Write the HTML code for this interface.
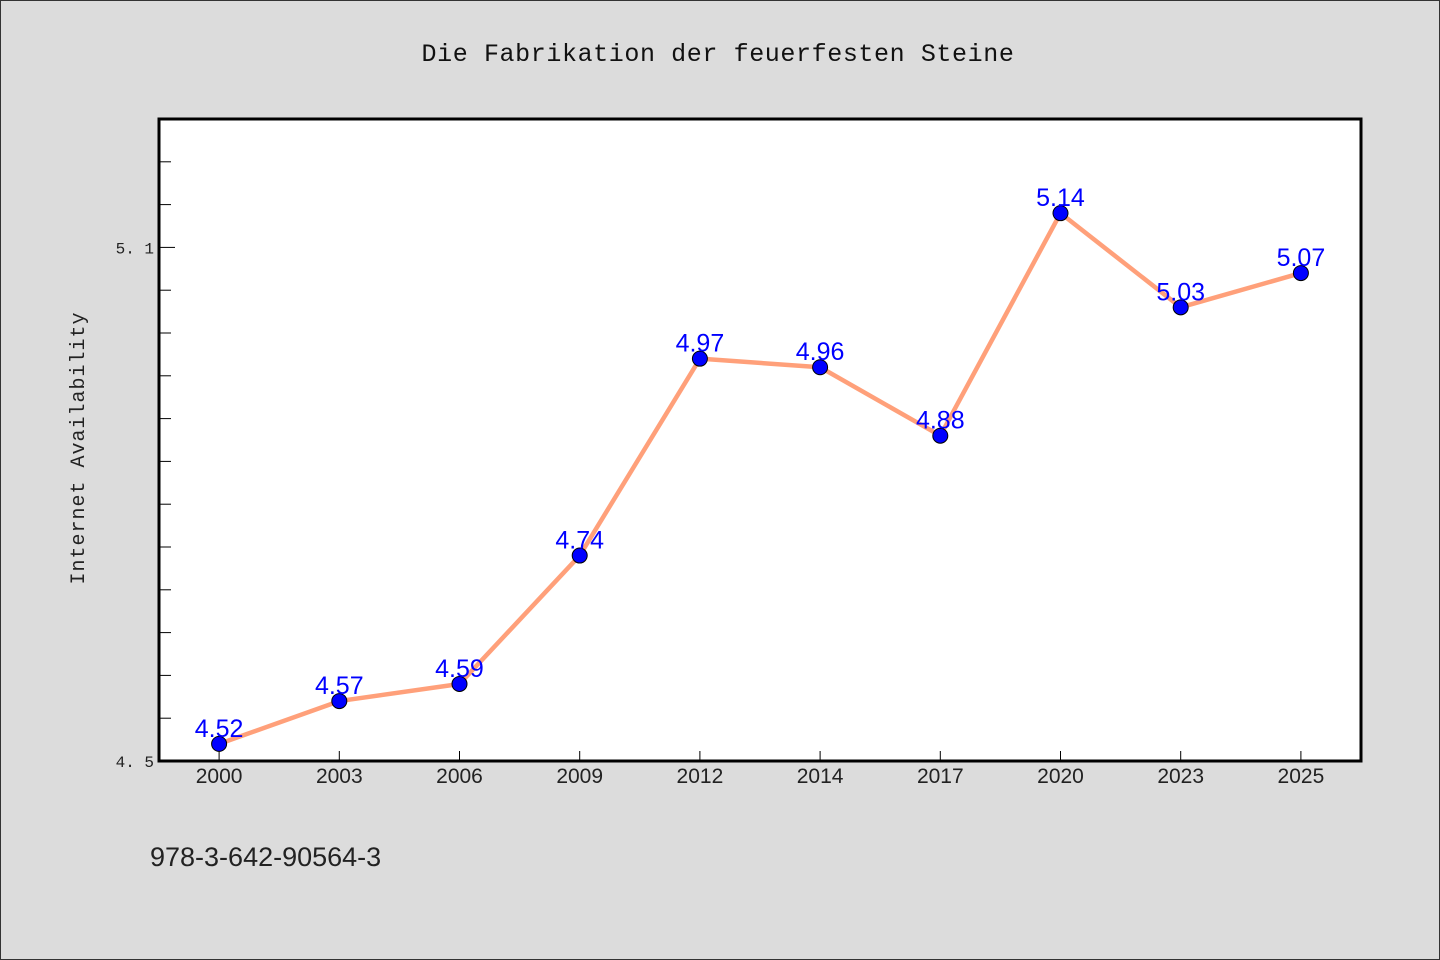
<!DOCTYPE html>
<html><head><meta charset="utf-8"><style>
html,body{margin:0;padding:0;background:#dcdcdc}
svg{display:block}
</style></head><body>
<svg width="1440" height="960" xmlns="http://www.w3.org/2000/svg">
<rect x="0.5" y="0.5" width="1439" height="959" fill="#dcdcdc" stroke="#333"/>
<text x="718" y="61" text-anchor="middle" font-family="'Liberation Mono', monospace" font-size="25" letter-spacing="0.6" fill="#111">Die Fabrikation der feuerfesten Steine</text>
<rect x="159" y="119" width="1202" height="642" fill="#fff" stroke="#000" stroke-width="3"/>
<text transform="translate(84,448) rotate(-90)" text-anchor="middle" font-family="'Liberation Mono', monospace" font-size="20" letter-spacing="1" fill="#222">Internet Availability</text>
<text x="150" y="866" font-family="'Liberation Sans', sans-serif" font-size="27" fill="#222">978-3-642-90564-3</text>
<g id="axes"></g>
<g id="marks"></g>
</svg>
<script>
const categories=["2000","2003","2006","2009","2012","2014","2017","2020","2023","2025"];
const values=[4.52,4.57,4.59,4.74,4.97,4.96,4.88,5.14,5.03,5.07];
const yMajorTicks=[4.5,5.1];
const yMin=4.5,yMax=5.25,x0=159,x1=1361,yTop=119,yBot=761;
const NS="http://www.w3.org/2000/svg";
const band=(x1-x0)/categories.length;
function xs(i){return x0+band*(i+0.5);}
function ys(v){return yBot-(v-yMin)/(yMax-yMin)*(yBot-yTop);}
function mk(t,a,p){const e=document.createElementNS(NS,t);for(const k in a)e.setAttribute(k,a[k]);p.appendChild(e);return e;}
const ax=document.getElementById('axes'),mg=document.getElementById('marks');
for(let k=0;k<=15;k++){const v=yMin+k*0.05;if(v>yMax+1e-9)break;const y=ys(v);
const major=yMajorTicks.some(m=>Math.abs(m-v)<1e-6);
const t=mk('line',{x1:x0,x2:x0+(major?16:12),y1:y,y2:y,stroke:'#000','stroke-width':1},ax);


if(major){const l=mk('text',{x:x0-5,y:y+6,'text-anchor':'end','font-family':"'Liberation Mono', monospace",'font-size':16,fill:'#222'},ax);l.textContent=v.toFixed(1).replace('.','. ');

}}
categories.forEach((c,i)=>{const x=xs(i);
const t=mk('line',{x1:x,x2:x,y1:yBot,y2:yBot-10,stroke:'#000','stroke-width':1},ax);


const l=mk('text',{x:x,y:783,'text-anchor':'middle','font-family':"'Liberation Sans', sans-serif",'font-size':21,fill:'#222'},ax);l.textContent=c;

});
const pl=mk('polyline',{points:values.map((v,i)=>xs(i)+','+ys(v)).join(' '),fill:'none',stroke:'#ffa07a','stroke-width':4.5,'stroke-linejoin':'round'},mg);


values.forEach((v,i)=>{const c=mk('circle',{cx:xs(i),cy:ys(v),r:7.5,fill:'#0000ff',stroke:'#000','stroke-width':1},mg);


const l=mk('text',{x:xs(i),y:ys(v)-7,'text-anchor':'middle','font-family':"'Liberation Sans', sans-serif",'font-size':25,fill:'#0000ff'},mg);l.textContent=v.toFixed(2);

});
</script>
</body></html>
